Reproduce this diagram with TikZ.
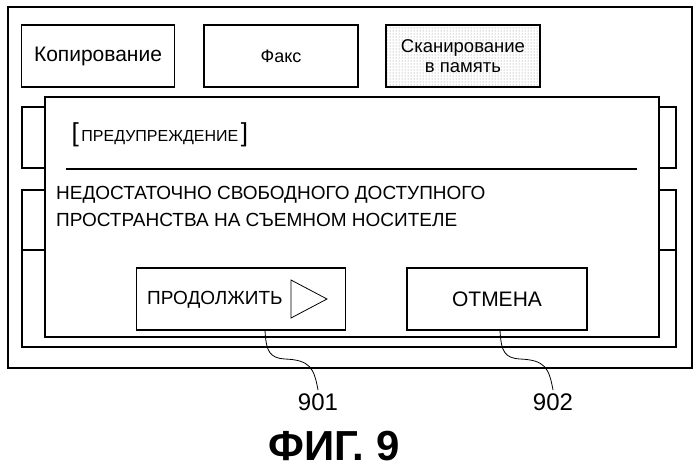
\documentclass[tikz,border=0pt]{standalone}
\usepackage{fontspec}
\setmainfont{Liberation Sans}
\usetikzlibrary{positioning,patterns}
\tikzset{
  box/.style={draw, line width=1.2pt, inner sep=0pt},
  lead/.style={line width=0.8pt}
}
\begin{document}
\begin{tikzpicture}[x=1pt,y=-1pt]
  \useasboundingbox (0,0) rectangle (699,472);
  % screen frame and tabs
  \draw[box] (8,7) rectangle (692,368);
  \node[box, minimum width=153pt, minimum height=62pt] (copy) at (98,56) {\fontsize{21}{24}\selectfont Копирование};
  \node[box, minimum width=154pt, minimum height=62pt] (fax) at (281,56) {\fontsize{18}{20}\selectfont Факс};
  \node[box, pattern=dots, pattern color=gray, minimum width=154pt, minimum height=62pt] (scan) at (463,56) {};
  \node[align=center, font=\fontsize{18.5}{20}\selectfont] at (scan) {Сканирование\\в память};
  % panels behind dialog
  \draw[box] (22,107) rectangle (676,168);
  \draw[box] (22,190) rectangle (676,250);
  \draw[box] (22,250) rectangle (676,347);
  % dialog
  \draw[box, fill=white] (45,97) rectangle (659,337);
  \node[anchor=west, font=\fontsize{16}{18}\selectfont] (title) at (68,135)
    {{\fontsize{26}{28}\selectfont\addfontfeature{}[}\,ПРЕДУПРЕЖДЕНИЕ\,{\fontsize{26}{28}\selectfont]}};
  \draw[line width=1.2pt] (66,169) -- (637,169);
  \node[anchor=north west, align=left, inner sep=0pt, font=\fontsize{19}{27}\selectfont] (msg) at (56,186)
    {НЕДОСТАТОЧНО СВОБОДНОГО ДОСТУПНОГО\\ПРОСТРАНСТВА НА СЪЕМНОМ НОСИТЕЛЕ};
  \node[box, minimum width=209pt, minimum height=62pt] (cont) at (241,299) {};
  \node[anchor=west, inner sep=0pt, font=\fontsize{19}{21}\selectfont] at (147,300) {ПРОДОЛЖИТЬ};
  \draw[line width=0.8pt] (291,280) -- (327,299) -- (291,318) -- cycle;
  \node[box, minimum width=180pt, minimum height=62pt] (cancel) at (497,299) {\fontsize{21}{23}\selectfont ОТМЕНА};
  % reference numerals
  \node[font=\fontsize{24}{26}\selectfont] (n901) at (318,402) {901};
  \node[font=\fontsize{24}{26}\selectfont] (n902) at (553,402) {902};
  \draw[lead] (265,330) .. controls (266,352) and (270,358) .. (285,359) .. controls (310,360) and (314,368) .. (n901.north);
  \draw[lead] (500,330) .. controls (501,352) and (505,358) .. (520,359) .. controls (545,360) and (549,368) .. (n902.north);
  \node[font=\bfseries\fontsize{42}{46}\selectfont] (fig) at (334,446) {ФИГ. 9};
\end{tikzpicture}
\end{document}
